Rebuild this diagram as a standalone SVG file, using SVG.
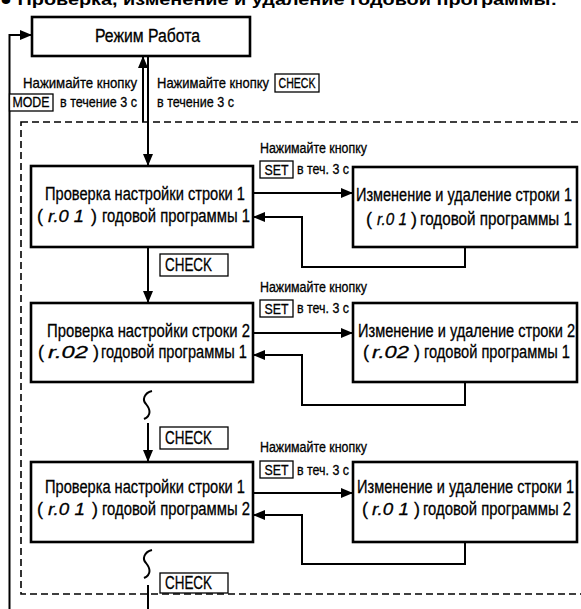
<svg xmlns="http://www.w3.org/2000/svg" width="581" height="609" viewBox="0 0 581 609">
<defs>
<marker id="ah" viewBox="0 0 12 10" refX="12" refY="5" markerWidth="12" markerHeight="10" orient="auto" markerUnits="userSpaceOnUse"><path d="M0,0 L12,5 L0,10 z" fill="#000"/></marker>
<style>
.box{fill:#fff;stroke:#000;stroke-width:2.6}
.kb{fill:#fff;stroke:#000;stroke-width:1.3}
.t{font-family:"Liberation Sans Narrow","Liberation Sans",Arial,sans-serif;fill:#000;stroke:#000;stroke-width:0.3}
.m{font-size:18px}
.s{font-size:14px}
.l{font-size:15px}
.seg{font-family:"Liberation Sans",Arial,sans-serif;font-style:italic;font-size:17px;fill:#000;stroke:#000;stroke-width:0.3}
.ln{fill:none;stroke:#000;stroke-width:2}
.arr{fill:none;stroke:#000;stroke-width:2;marker-end:url(#ah)}
.dash{fill:none;stroke:#000;stroke-width:1.6;stroke-dasharray:7 4}
.title{font-family:"Liberation Sans",Arial,sans-serif;font-weight:bold;font-size:16px;fill:#000}
</style>
</defs>
<rect width="581" height="609" fill="#fff"/>
<text class="title" x="0" y="5" textLength="557" lengthAdjust="spacingAndGlyphs">● Проверка, изменение и удаление годовой программы:</text>

<rect class="dash" x="21" y="122" width="575" height="472"/>

<g id="connectors">
<path class="arr" d="M9.5 609 V35 H32"/>
<path class="arr" d="M143 122 V56"/>
<path class="arr" d="M148 56 V166"/>
<path class="arr" d="M253 193 H353"/>
<path class="arr" d="M465 247 V267 H302 V217 H253"/>
<path class="arr" d="M148 247 V303"/>
<path class="arr" d="M253 333 H353"/>
<path class="arr" d="M465 382 V405 H302 V355 H253"/>
<path class="ln" d="M152 391 C144 393,142 400,146 404 C150 409,152 415,144 419" stroke-width="1.8"/>
<path class="arr" d="M148 423 V462"/>
<path class="arr" d="M253 493 H353"/>
<path class="arr" d="M465 542 V564 H302 V515 H253"/>
<path class="ln" d="M152 550 C144 552,142 559,146 563 C150 568,152 574,144 578" stroke-width="1.8"/>
<path class="ln" d="M148 585 V609"/>
</g>

<g id="labels">
<text class="t l" x="137" y="88" text-anchor="end" textLength="114" lengthAdjust="spacingAndGlyphs">Нажимайте кнопку</text>
<rect class="kb" x="9.5" y="94" width="43.5" height="17"/>
<text class="t s" x="31" y="107" text-anchor="middle" textLength="37" lengthAdjust="spacingAndGlyphs">MODE</text>
<text class="t l" x="60" y="107" textLength="77" lengthAdjust="spacingAndGlyphs">в течение 3 с</text>
<text class="t l" x="157" y="88" textLength="112" lengthAdjust="spacingAndGlyphs">Нажимайте кнопку</text>
<rect class="kb" x="275" y="74" width="44" height="18"/>
<text class="t s" x="297" y="88" text-anchor="middle" textLength="37" lengthAdjust="spacingAndGlyphs">CHECK</text>
<text class="t l" x="157" y="107" textLength="77" lengthAdjust="spacingAndGlyphs">в течение 3 с</text>

<text class="t s" x="260" y="153" textLength="107" lengthAdjust="spacingAndGlyphs">Нажимайте кнопку</text>
<rect class="kb" x="260" y="161" width="33" height="17"/>
<text class="t l" x="276.5" y="175" text-anchor="middle" textLength="24" lengthAdjust="spacingAndGlyphs">SET</text>
<text class="t s" x="297" y="174" textLength="52" lengthAdjust="spacingAndGlyphs">в теч. 3 с</text>

<rect class="kb" x="160" y="254" width="68" height="22"/>
<text class="t m" x="165" y="271" textLength="47" lengthAdjust="spacingAndGlyphs">CHECK</text>

<text class="t s" x="260" y="292" textLength="107" lengthAdjust="spacingAndGlyphs">Нажимайте кнопку</text>
<rect class="kb" x="260" y="300" width="33" height="17"/>
<text class="t l" x="276.5" y="314" text-anchor="middle" textLength="24" lengthAdjust="spacingAndGlyphs">SET</text>
<text class="t s" x="297" y="313" textLength="52" lengthAdjust="spacingAndGlyphs">в теч. 3 с</text>

<rect class="kb" x="160" y="427" width="68" height="22"/>
<text class="t m" x="165" y="444" textLength="47" lengthAdjust="spacingAndGlyphs">CHECK</text>

<text class="t s" x="260" y="452" textLength="107" lengthAdjust="spacingAndGlyphs">Нажимайте кнопку</text>
<rect class="kb" x="260" y="461" width="33" height="17"/>
<text class="t l" x="276.5" y="475" text-anchor="middle" textLength="24" lengthAdjust="spacingAndGlyphs">SET</text>
<text class="t s" x="297" y="475" textLength="52" lengthAdjust="spacingAndGlyphs">в теч. 3 с</text>

<rect class="kb" x="160" y="573" width="68" height="20"/>
<text class="t m" x="165" y="589" textLength="47" lengthAdjust="spacingAndGlyphs">CHECK</text>
</g>

<g id="work">
<rect class="box" x="32" y="17" width="218" height="39"/>
<text class="t m" x="95" y="42" textLength="105" lengthAdjust="spacingAndGlyphs">Режим Работа</text>
</g>

<g id="check1">
<rect class="box" x="31" y="166" width="222" height="81"/>
<text class="t m" x="45" y="200" textLength="200" lengthAdjust="spacingAndGlyphs">Проверка настройки строки 1</text>
<text class="t m" x="37" y="222">(</text>
<text class="seg" x="48" y="222" textLength="36" lengthAdjust="spacingAndGlyphs">r.0 1</text>
<text class="t m" x="91" y="222">)</text>
<text class="t m" x="102" y="222" textLength="148" lengthAdjust="spacingAndGlyphs">годовой программы 1</text>
</g>

<g id="edit1">
<rect class="box" x="353" y="167" width="224" height="80"/>
<text class="t m" x="356" y="201" textLength="216" lengthAdjust="spacingAndGlyphs">Изменение и удаление строки 1</text>
<text class="t m" x="366" y="225">(</text>
<text class="seg" x="377" y="225" textLength="30" lengthAdjust="spacingAndGlyphs">r.0 1</text>
<text class="t m" x="411" y="225">)</text>
<text class="t m" x="420" y="225" textLength="152" lengthAdjust="spacingAndGlyphs">годовой программы 1</text>
</g>

<g id="check2">
<rect class="box" x="31" y="303" width="222" height="79"/>
<text class="t m" x="47" y="337" textLength="203" lengthAdjust="spacingAndGlyphs">Проверка настройки строки 2</text>
<text class="t m" x="38" y="358">(</text>
<text class="seg" x="48" y="358" textLength="40" lengthAdjust="spacingAndGlyphs">r.02</text>
<text class="t m" x="93" y="358">)</text>
<text class="t m" x="101" y="358" textLength="146" lengthAdjust="spacingAndGlyphs">годовой программы 1</text>
</g>

<g id="edit2">
<rect class="box" x="353" y="303" width="224" height="79"/>
<text class="t m" x="358" y="337" textLength="217" lengthAdjust="spacingAndGlyphs">Изменение и удаление строки 2</text>
<text class="t m" x="363" y="358">(</text>
<text class="seg" x="372" y="358" textLength="37" lengthAdjust="spacingAndGlyphs">r.02</text>
<text class="t m" x="414" y="358">)</text>
<text class="t m" x="424" y="358" textLength="146" lengthAdjust="spacingAndGlyphs">годовой программы 1</text>
</g>

<g id="check3">
<rect class="box" x="31" y="462" width="222" height="80"/>
<text class="t m" x="45" y="493" textLength="200" lengthAdjust="spacingAndGlyphs">Проверка настройки строки 1</text>
<text class="t m" x="37" y="515">(</text>
<text class="seg" x="48" y="515" textLength="37" lengthAdjust="spacingAndGlyphs">r.0 1</text>
<text class="t m" x="92" y="515">)</text>
<text class="t m" x="102" y="515" textLength="148" lengthAdjust="spacingAndGlyphs">годовой программы 2</text>
</g>

<g id="edit3">
<rect class="box" x="353" y="462" width="224" height="80"/>
<text class="t m" x="357" y="493" textLength="217" lengthAdjust="spacingAndGlyphs">Изменение и удаление строки 1</text>
<text class="t m" x="362" y="515">(</text>
<text class="seg" x="372" y="515" textLength="37" lengthAdjust="spacingAndGlyphs">r.0 1</text>
<text class="t m" x="414" y="515">)</text>
<text class="t m" x="423" y="515" textLength="148" lengthAdjust="spacingAndGlyphs">годовой программы 2</text>
</g>
</svg>
